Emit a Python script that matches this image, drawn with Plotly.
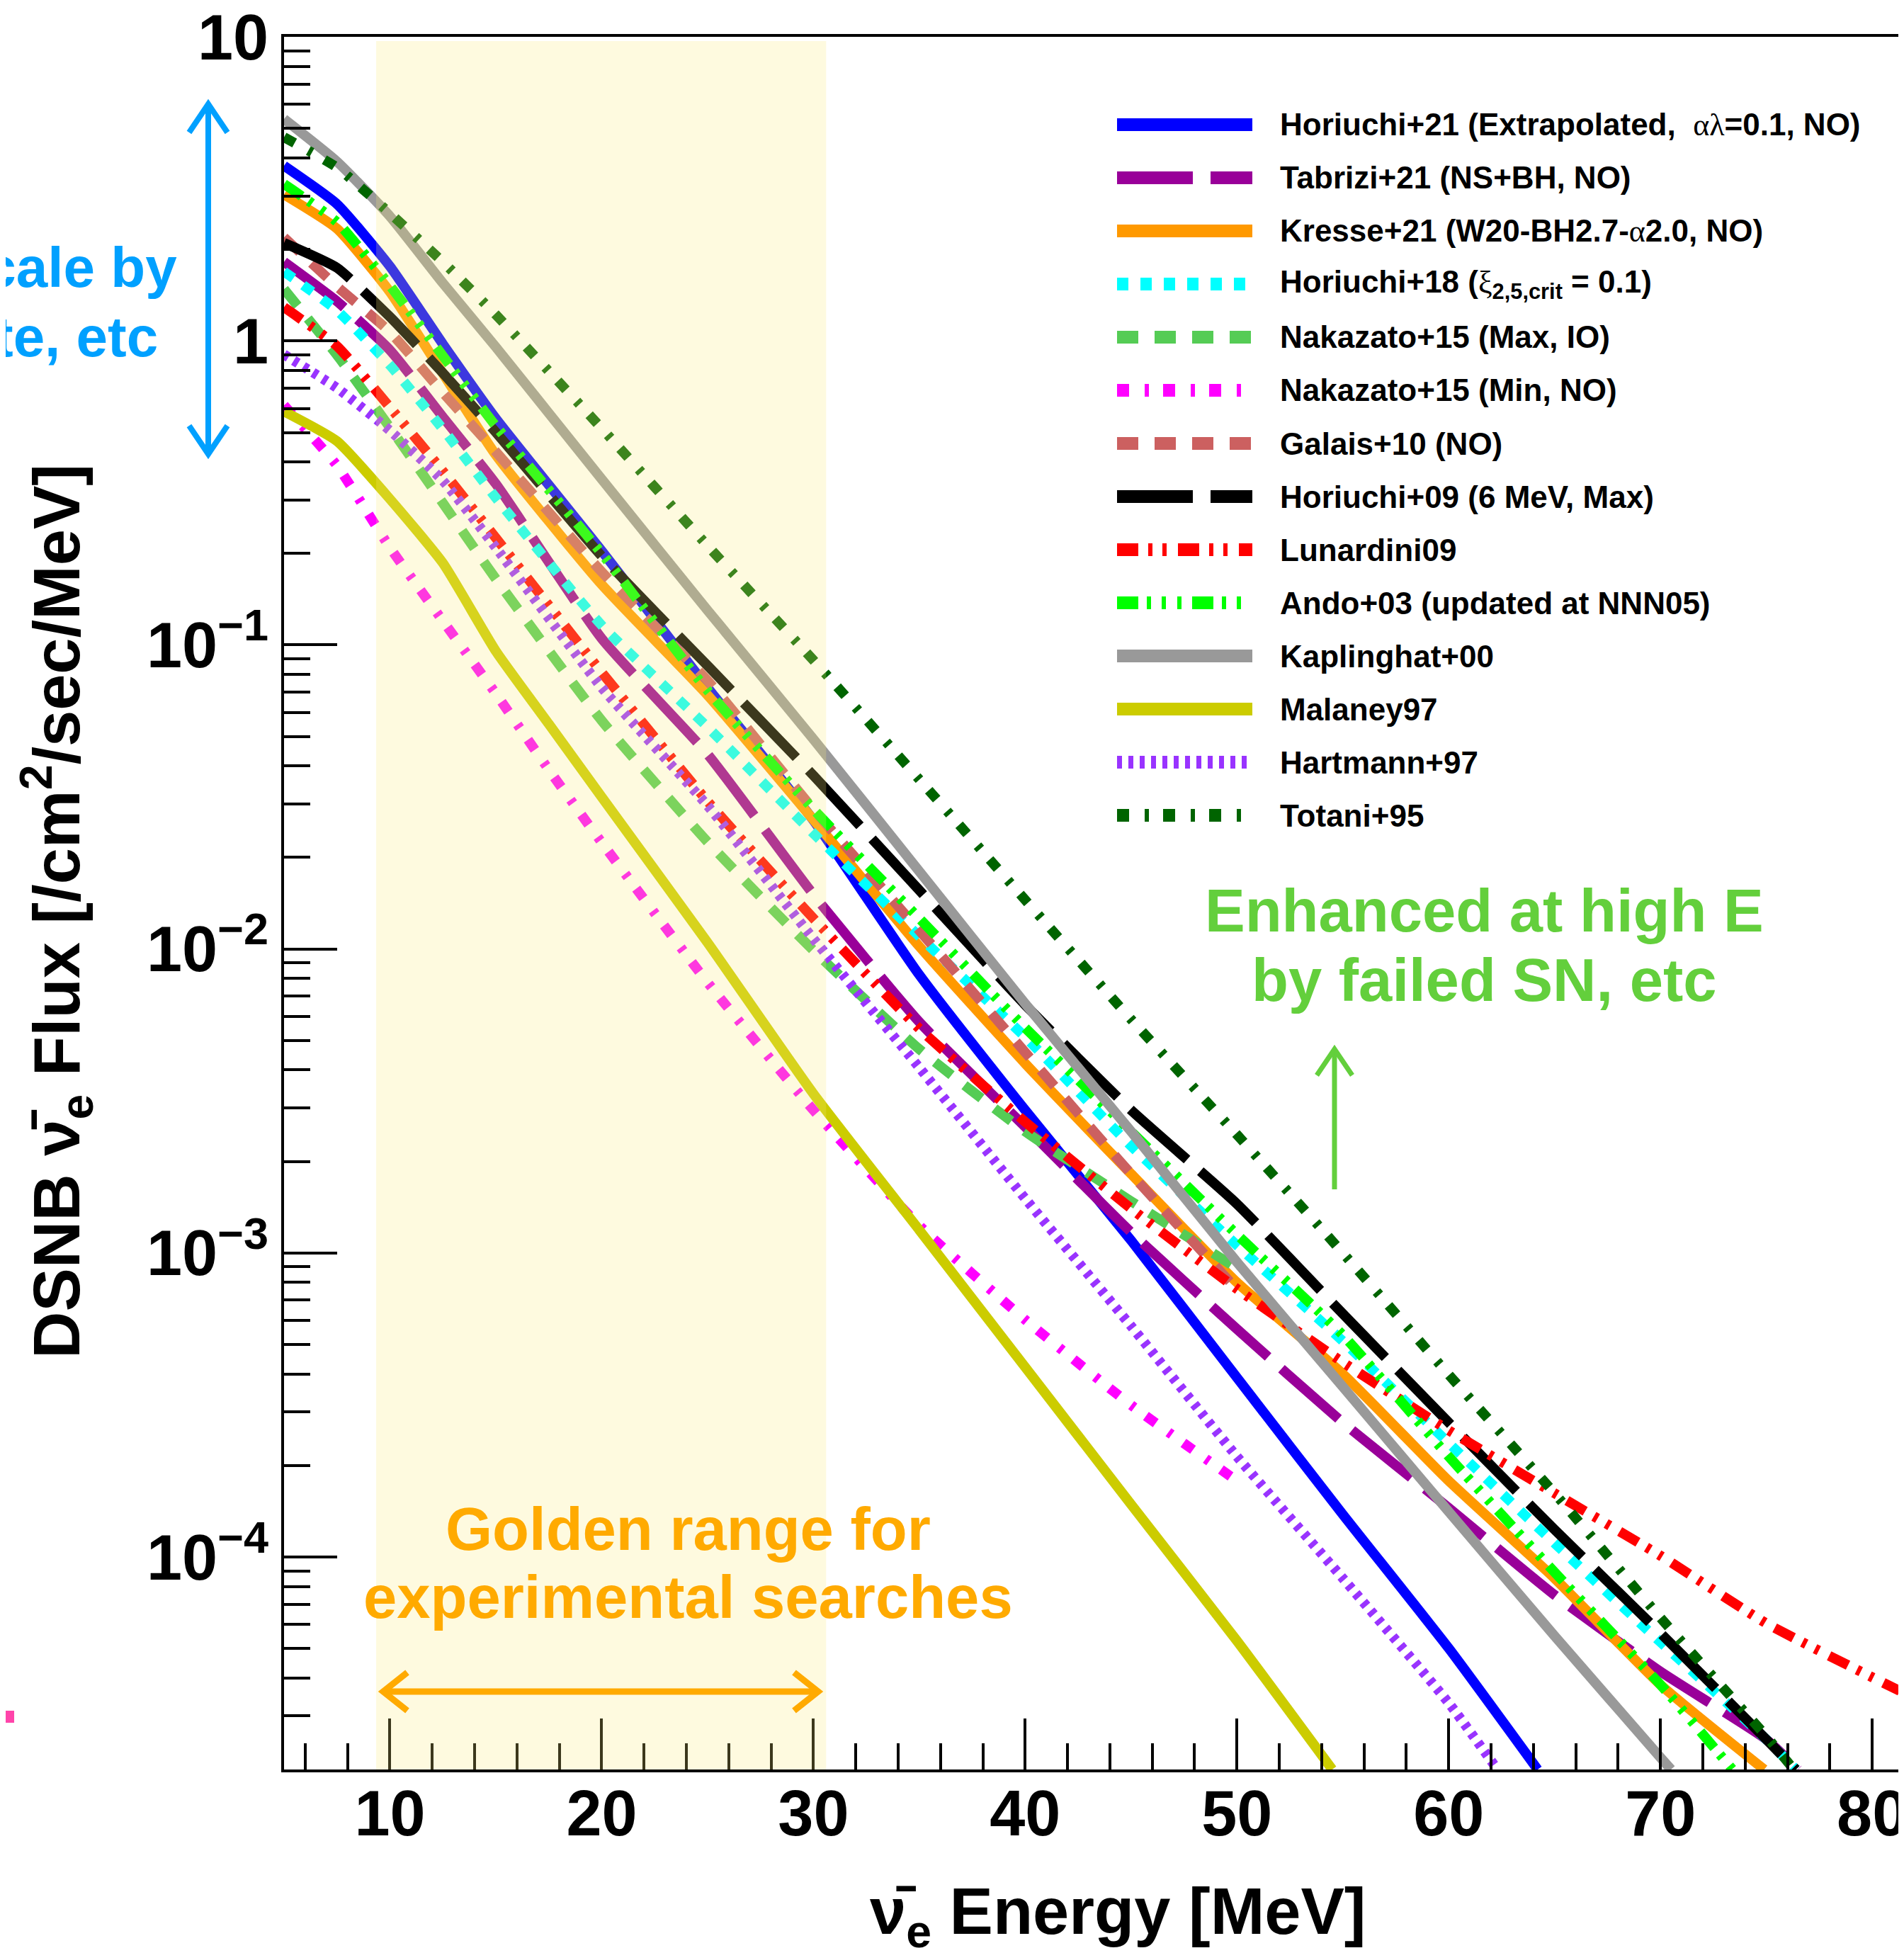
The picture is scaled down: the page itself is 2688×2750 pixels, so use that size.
import math
import plotly.graph_objects as go

W, H = 2688, 2750
L, R, T, B = 393, 2674, 44, 2490          # plot frame edges in pixels

def PX(x):
    return (x - L) / (R - L)

def PY(y):
    return (B - y) / (B - T)

FONT = "Liberation Sans, Arial, Helvetica, sans-serif"
SERIF = "font-family:'Liberation Serif',serif;font-weight:normal"

# ---------------- data ----------------
E_horiuchi21 = [5, 7.5, 10, 12.5, 15, 20, 25, 30, 35, 40, 45, 50, 55, 60, 64.2]
F_horiuchi21 = [3.77, 2.82, 1.76, 0.977, 0.556, 0.204, 0.0724, 0.0265, 8.22e-3, 2.95e-3,
                1.10e-3, 3.89e-4, 1.38e-4, 5.01e-5, 2.0e-5]

E_tabrizi21 = [5, 7.5, 10, 12.5, 15, 20, 25, 30, 35, 40, 45, 50, 55, 60, 65, 70, 75, 76.5]
F_tabrizi21 = [1.82, 1.35, 0.933, 0.562, 0.339, 0.105, 0.0437, 0.0151, 5.75e-3, 2.6e-3,
               1.17e-3, 5.62e-4, 2.77e-4, 1.45e-4, 7.50e-5, 4.20e-5, 2.51e-5, 2.0e-5]

E_kresse21 = [5, 7.5, 10, 12.5, 15, 20, 25, 30, 35, 40, 45, 50, 55, 60, 65, 70, 74.9]
F_kresse21 = [3.03, 2.34, 1.45, 0.782, 0.422, 0.158, 0.0684, 0.0266, 0.0102, 4.2e-3,
              1.82e-3, 8.0e-4, 4.0e-4, 1.78e-4, 8.51e-5, 3.80e-5, 2.0e-5]

E_horiuchi18 = [5, 7.5, 10, 12.5, 15, 20, 25, 30, 35, 40, 45, 50, 55, 60, 65, 70, 75, 76.4]
F_horiuchi18 = [1.69, 1.26, 0.832, 0.513, 0.305, 0.116, 0.0537, 0.0240, 0.0110, 5.13e-3,
                2.25e-3, 1.06e-3, 5.13e-4, 2.37e-4, 1.11e-4, 5.25e-5, 2.51e-5, 2.0e-5]

E_nakazato_max = [5, 7.5, 10, 12.5, 15, 20, 25, 30, 35, 40, 45, 50]
F_nakazato_max = [1.48, 0.899, 0.519, 0.293, 0.165, 0.0564, 0.0225, 9.89e-3, 4.68e-3,
                  2.51e-3, 1.48e-3, 8.91e-4]

E_nakazato_min = [5, 7.5, 10, 12.5, 15, 17.5, 20, 25, 30, 35, 40, 45, 50.2]
F_nakazato_min = [0.614, 0.389, 0.209, 0.120, 0.0692, 0.0389, 0.0224, 7.76e-3, 2.95e-3,
                  1.23e-3, 6.03e-4, 3.16e-4, 1.74e-4]

E_galais10 = [5, 7.5, 10, 12.5, 15, 20, 25, 30, 35, 40, 45, 50]
F_galais10 = [2.19, 1.51, 1.07, 0.676, 0.432, 0.174, 0.0764, 0.0288, 0.0115, 4.57e-3,
              1.82e-3, 7.59e-4]

E_horiuchi09 = [5, 7.5, 10, 12.5, 15, 20, 25, 30, 35, 40, 45, 50, 55, 60, 65, 70, 75, 76.4]
F_horiuchi09 = [2.10, 1.74, 1.20, 0.785, 0.501, 0.196, 0.0855, 0.0372, 0.0156, 6.55e-3,
                2.95e-3, 1.45e-3, 6.31e-4, 2.77e-4, 1.23e-4, 5.62e-5, 2.51e-5, 2.0e-5]

E_lunardini09 = [5, 7.5, 10, 12.5, 15, 20, 25, 30, 35, 40, 45, 50, 55, 60, 65, 70, 75, 80, 81.3]
F_lunardini09 = [1.29, 0.962, 0.605, 0.373, 0.225, 0.0813, 0.0306, 0.0126, 5.47e-3, 2.70e-3,
                 1.40e-3, 7.62e-4, 4.37e-4, 2.61e-4, 1.62e-4, 1.01e-4, 6.05e-5, 4.02e-5, 3.63e-5]

E_ando03 = [5, 7.5, 10, 12.5, 15, 20, 25, 30, 35, 40, 45, 50, 55, 60, 65, 70, 73.4]
F_ando03 = [3.28, 2.46, 1.52, 0.893, 0.525, 0.200, 0.0708, 0.0288, 0.0126, 5.50e-3,
            2.51e-3, 1.15e-3, 5.37e-4, 2.14e-4, 8.91e-5, 3.80e-5, 2.0e-5]

E_kaplinghat00 = [5, 7.5, 10, 12.5, 15, 20, 25, 30, 35, 40, 45, 50, 55, 60, 65, 70, 70.5]
F_kaplinghat00 = [5.37, 3.89, 2.57, 1.55, 0.955, 0.351, 0.130, 0.0490, 0.0180, 6.61e-3,
                  2.51e-3, 9.33e-4, 3.63e-4, 1.41e-4, 5.50e-5, 2.19e-5, 2.0e-5]

E_malaney97 = [5, 7.5, 10, 12.5, 15, 17.5, 20, 25, 30, 35, 40, 45, 50, 54.5]
F_malaney97 = [0.586, 0.468, 0.302, 0.186, 0.0955, 0.0550, 0.0316, 0.0105, 3.34e-3,
               1.19e-3, 4.21e-4, 1.49e-4, 5.30e-5, 2.0e-5]

E_hartmann97 = [5, 7.5, 10, 12.5, 15, 20, 25, 30, 35, 40, 45, 50, 55, 60, 62.3]
F_hartmann97 = [0.902, 0.700, 0.507, 0.347, 0.209, 0.0724, 0.0296, 0.0108, 4.07e-3,
                1.51e-3, 5.75e-4, 2.14e-4, 8.51e-5, 3.31e-5, 2.0e-5]

E_totani95 = [5, 7.5, 10, 12.5, 15, 20, 25, 30, 35, 40, 45, 50, 55, 60, 65, 70, 75, 76.3]
F_totani95 = [4.68, 3.72, 2.63, 1.82, 1.22, 0.516, 0.212, 0.0891, 0.0361, 0.0145,
              5.87e-3, 2.45e-3, 1.00e-3, 3.98e-4, 1.62e-4, 6.31e-5, 2.57e-5, 2.0e-5]

legend_labels = [
    f"Horiuchi+21 (Extrapolated,  <span style=\"{SERIF}\">αλ</span>=0.1, NO)",
    "Tabrizi+21 (NS+BH, NO)",
    f"Kresse+21 (W20-BH2.7-<span style=\"{SERIF}\">α</span>2.0, NO)",
    f"Horiuchi+18 (<span style=\"{SERIF}\">ξ</span><sub>2,5,crit</sub> = 0.1)",
    "Nakazato+15 (Max, IO)",
    "Nakazato+15 (Min, NO)",
    "Galais+10 (NO)",
    "Horiuchi+09 (6 MeV, Max)",
    "Lunardini09",
    "Ando+03 (updated at NNN05)",
    "Kaplinghat+00",
    "Malaney97",
    "Hartmann+97",
    "Totani+95",
]
line_colors = ["#0000FF", "#990099", "#FF9900", "#00FFFF", "#55CC55", "#FF00FF", "#CC6060",
               "#000000", "#FF0000", "#00FF00", "#999999", "#CCCC00", "#9933FF", "#006400"]
line_dashes = ["solid", "107px,25px", "solid", "16px,17px", "30px,23px",
               "17px,22px,6px,20px", "30px,23px", "107px,25px",
               "30px,14px,6px,14px,6px,16px", "30px,12px,6px,15px,6px,16px,6px,15px",
               "solid", "solid", "7px,9px", "17px,22px,6px,20px"]
series = [(E_horiuchi21, F_horiuchi21), (E_tabrizi21, F_tabrizi21), (E_kresse21, F_kresse21),
          (E_horiuchi18, F_horiuchi18), (E_nakazato_max, F_nakazato_max),
          (E_nakazato_min, F_nakazato_min), (E_galais10, F_galais10),
          (E_horiuchi09, F_horiuchi09), (E_lunardini09, F_lunardini09), (E_ando03, F_ando03),
          (E_kaplinghat00, F_kaplinghat00), (E_malaney97, F_malaney97),
          (E_hartmann97, F_hartmann97), (E_totani95, F_totani95)]

golden_range = [9.35, 30.6]
x_range = [5, 81.3]
y_min, y_max = 2e-5, 10
y_tickvals = [1e-4, 1e-3, 1e-2, 1e-1, 1, 10]
y_ticktext = ["10<sup>−4</sup>", "10<sup>−3</sup>", "10<sup>−2</sup>", "10<sup>−1</sup>", "1", "10"]

LW = 14        # curve width
LW_LEG = 18    # legend sample width

# ---------------- figure ----------------
fig = go.Figure()
for (E, F), name, col, dsh in zip(series, legend_labels, line_colors, line_dashes):
    fig.add_trace(go.Scatter(x=E, y=F, mode="lines", name=name, showlegend=False,
                             line=dict(color=col, width=LW, dash=dsh, shape="spline", smoothing=0.5),
                             hoverinfo="skip"))

minor_y = [k * 10 ** d for d in range(-5, 1) for k in range(2, 10) if y_min < k * 10 ** d < y_max]

shapes = []
# golden range overlay (drawn above curves)
shapes.append(dict(type="rect", xref="x", yref="paper", x0=golden_range[0], x1=golden_range[1],
                   y0=0, y1=PY(50), fillcolor="rgba(252,236,120,0.24)", line=dict(width=0),
                   layer="above"))

# manual legend samples
for i, (col, dsh) in enumerate(zip(line_colors, line_dashes)):
    yy = PY(168 + 75 * i)
    shapes.append(dict(type="line", xref="paper", yref="paper", x0=PX(1569), x1=PX(1760),
                       y0=yy, y1=yy, line=dict(color=col, width=LW_LEG, dash=dsh)))

def arrow_line(x0, y0, x1, y1, col, w):
    return dict(type="line", xref="paper", yref="paper", x0=PX(x0), y0=PY(y0), x1=PX(x1), y1=PY(y1),
                line=dict(color=col, width=w))

def chevron(pts, col, w):
    p = "M " + " L ".join(f"{PX(a)},{PY(b)}" for a, b in pts)
    return dict(type="path", xref="paper", yref="paper", path=p, line=dict(color=col, width=w))

BLUE = "#00A0FF"
GREEN = "#63CF3C"
ORANGE = "#FFAA00"
# blue double arrow
shapes.append(arrow_line(286, 143, 286, 629, BLUE, 8))
shapes.append(chevron([(259, 179), (286, 139), (313, 179)], BLUE, 8))
shapes.append(chevron([(259, 593), (286, 633), (313, 593)], BLUE, 8))
# green up arrow
shapes.append(arrow_line(1876, 1477, 1876, 1671, GREEN, 7))
shapes.append(chevron([(1851, 1510), (1876, 1473), (1901, 1510)], GREEN, 7))
# orange double arrow
shapes.append(arrow_line(535, 2380, 1145, 2380, ORANGE, 9))
shapes.append(chevron([(567, 2353), (533, 2380), (567, 2407)], ORANGE, 9))
shapes.append(chevron([(1113, 2353), (1147, 2380), (1113, 2407)], ORANGE, 9))
# stray pink mark at the left edge
shapes.append(dict(type="rect", xref="paper", yref="paper", x0=PX(0), x1=PX(12), y0=PY(2424),
                   y1=PY(2407), fillcolor="#FF44AA", line=dict(width=0)))

ann = []
def text(x, y, s, size, col="black", xa="center", ya="middle", angle=0):
    ann.append(dict(x=PX(x), y=PY(y), xref="paper", yref="paper", text=s, showarrow=False,
                    xanchor=xa, yanchor=ya, textangle=angle,
                    font=dict(family=FONT, size=size, color=col, weight="bold")))

for i, lab in enumerate(legend_labels):
    text(1797, 168 + 75 * i, lab, 44, xa="left")

text(244, 370, "Scale by", 80, BLUE, xa="right")
text(217, 467, "SN rate, etc", 80, BLUE, xa="right")
text(2087, 1277, "Enhanced at high E", 85, GREEN)
text(2087, 1375, "by failed SN, etc", 85, GREEN)
text(963, 2150, "Golden range for", 85, ORANGE)
text(963, 2246, "experimental searches", 85, ORANGE)
# axis titles
text(1570, 2697, "ν̄<sub>e</sub> Energy [MeV]", 92)
text(72, 1279, "DSNB ν̄<sub>e</sub> Flux [/cm<sup>2</sup>/sec/MeV]", 92, angle=-90)

fig.update_layout(
    template="none",
    width=W, height=H,
    margin=dict(l=L, r=W - R, t=T, b=H - B, pad=0, autoexpand=False),
    paper_bgcolor="white", plot_bgcolor="white",
    showlegend=False, hovermode=False,
    font=dict(family=FONT, color="black"),
    shapes=shapes, annotations=ann,
    xaxis=dict(range=x_range, tickmode="linear", tick0=0, dtick=10, ticks="inside", ticklen=72,
               tickwidth=4, tickcolor="black", showline=True, linewidth=4, linecolor="black",
               mirror=True, showgrid=False, zeroline=False, ticklabelstandoff=-19,
               ticklabeloverflow="allow",
               tickfont=dict(family=FONT, size=90, color="black", weight="bold"),
               minor=dict(ticks="inside", ticklen=37, tickwidth=4, tickcolor="black",
                          tickmode="linear", tick0=0, dtick=2, showgrid=False)),
    yaxis=dict(type="log", range=[math.log10(y_min), math.log10(y_max) + 0.0003],
               tickmode="array", tickvals=y_tickvals, ticktext=y_ticktext,
               ticks="inside", ticklen=75, tickwidth=4, tickcolor="black",
               showline=True, linewidth=4, linecolor="black", mirror=True,
               showgrid=False, zeroline=False, ticklabelstandoff=0,
               ticklabeloverflow="allow",
               tickfont=dict(family=FONT, size=90, color="black", weight="bold"),
               minor=dict(ticks="inside", ticklen=37, tickwidth=4, tickcolor="black",
                          tickmode="array", tickvals=minor_y, showgrid=False)),
)

fig.write_html("out.html")
